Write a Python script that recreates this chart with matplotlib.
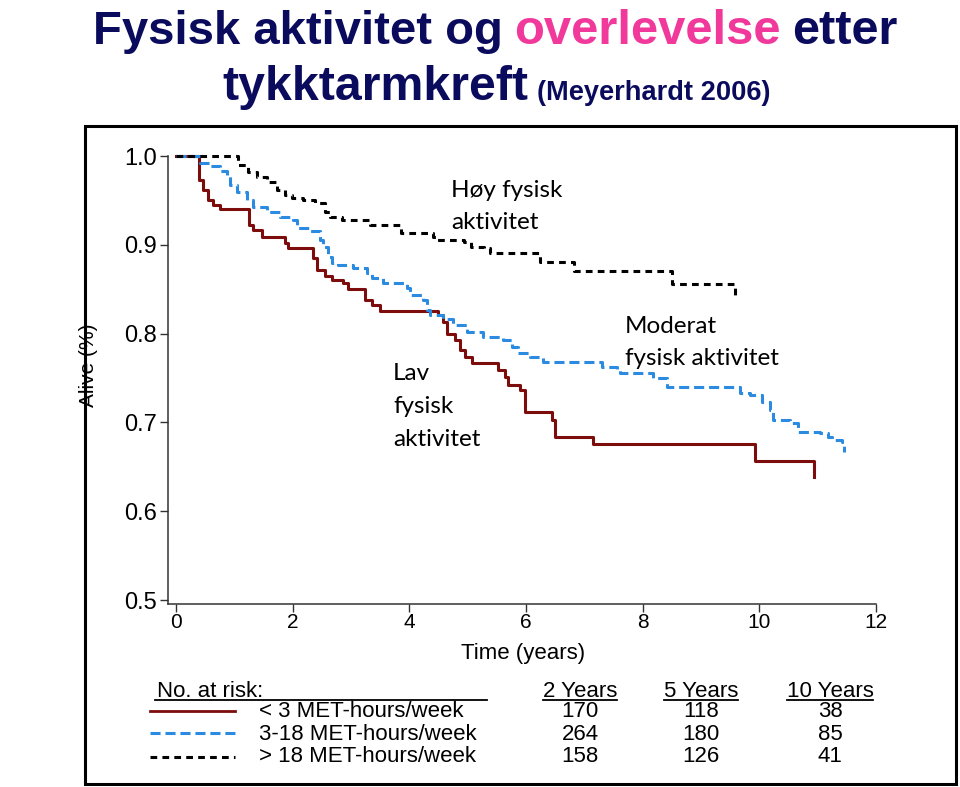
import matplotlib
matplotlib.use("Agg")
import matplotlib.pyplot as plt
from matplotlib import font_manager
from matplotlib.lines import Line2D
from matplotlib.patches import Rectangle

# Kaplan-Meier kurver lest av figuren (tid i år, andel i live)
lav_t = [0, 0.39, 0.46, 0.55, 0.63, 0.75, 1.25, 1.32, 1.48, 1.87, 1.92, 2.35, 2.42,
         2.56, 2.68, 2.86, 2.95, 3.24, 3.36, 3.50, 4.49, 4.58, 4.65, 4.79, 4.87, 4.96,
         5.08, 5.52, 5.64, 5.69, 5.90, 5.99, 6.45, 6.50, 7.15, 9.93, 10.94]
lav_s = [1.0, 0.973, 0.962, 0.950, 0.945, 0.940, 0.922, 0.917, 0.909, 0.902, 0.896,
         0.885, 0.872, 0.865, 0.860, 0.857, 0.850, 0.838, 0.832, 0.826, 0.821, 0.813,
         0.800, 0.793, 0.782, 0.774, 0.767, 0.759, 0.751, 0.742, 0.737, 0.712, 0.703,
         0.684, 0.676, 0.657, 0.639]

mod_t = [0, 0.41, 0.58, 0.75, 0.87, 0.93, 1.05, 1.22, 1.32, 1.56, 1.78, 2.01, 2.08,
         2.30, 2.47, 2.52, 2.61, 2.68, 2.78, 3.04, 3.28, 3.36, 3.55, 3.96, 4.01, 4.24,
         4.30, 4.36, 4.58, 4.75, 4.99, 5.27, 5.61, 5.76, 5.86, 6.07, 6.30, 7.31, 7.56,
         7.62, 8.18, 8.42, 9.67, 9.84, 10.05, 10.19, 10.24, 10.53, 10.67, 11.04, 11.17,
         11.25, 11.42, 11.45]
mod_s = [1.0, 0.992, 0.989, 0.983, 0.979, 0.967, 0.960, 0.950, 0.943, 0.937, 0.931,
         0.928, 0.919, 0.915, 0.905, 0.898, 0.886, 0.879, 0.877, 0.874, 0.868, 0.863,
         0.857, 0.851, 0.843, 0.838, 0.827, 0.821, 0.816, 0.810, 0.802, 0.796, 0.793,
         0.785, 0.778, 0.774, 0.768, 0.762, 0.759, 0.756, 0.750, 0.740, 0.733, 0.731,
         0.723, 0.714, 0.703, 0.699, 0.689, 0.688, 0.684, 0.680, 0.678, 0.667]

hoy_t = [0, 1.06, 1.23, 1.39, 1.56, 1.73, 1.87, 1.99, 2.18, 2.38, 2.55, 2.64, 2.85,
         3.33, 3.85, 4.41, 4.48, 4.94, 5.05, 5.28, 5.38, 6.24, 6.83, 8.51, 9.59]
hoy_s = [1.0, 0.990, 0.982, 0.976, 0.971, 0.962, 0.956, 0.953, 0.950, 0.947, 0.937,
         0.931, 0.928, 0.922, 0.913, 0.909, 0.905, 0.903, 0.898, 0.896, 0.891, 0.881,
         0.870, 0.856, 0.843]

grupper = ["< 3 MET-hours/week", "3-18 MET-hours/week", "> 18 MET-hours/week"]
aar_tekst = ["2 Years", "5 Years", "10 Years"]
at_risk = [[170, 118, 38],
           [264, 180, 85],
           [158, 126, 41]]

x_ticks = [0, 2, 4, 6, 8, 10, 12]
y_ticks = [0.5, 0.6, 0.7, 0.8, 0.9, 1.0]

NAVY = "#0b0b5e"
PINK = "#f0399a"
RED = "#7d0c0c"
BLUE = "#2b8be0"


def har_font(navn):
    try:
        font_manager.findfont(navn, fallback_to_default=False)
        return True
    except ValueError:
        return False


NARROW = "Liberation Sans Narrow" if har_font("Liberation Sans Narrow") else "Liberation Sans"
SANS = "Liberation Sans"
CALIBRI = "Lato"

W, H = 960, 787
fig = plt.figure(figsize=(9.6, 7.87), dpi=100)


def fx(x):
    return x / W


def fy(y):
    return 1 - y / H


renderer = fig.canvas.get_renderer()


def tittel_bit(s, farge, x0, x1, y):
    # tilpasser fontstørrelsen så teksten fyller x0..x1 (piksler)
    t = fig.text(fx(x0), fy(y), s, fontsize=40, color=farge, fontweight="bold",
                 family=[NARROW, "DejaVu Sans"], va="baseline", ha="left")
    w = t.get_window_extent(renderer).width
    t.set_fontsize(40 * (x1 - x0) / w)
    return t


tittel_bit("Fysisk aktivitet og", NAVY, 93, 502, 44)
tittel_bit("overlevelse", PINK, 514, 780, 44)
tittel_bit("etter", NAVY, 792, 897, 44)
tittel_bit("tykktarmkreft", NAVY, 222, 527, 100)
tittel_bit("(Meyerhardt 2006)", NAVY, 537, 770, 100)

# ramme rundt figuren
fig.add_artist(Rectangle((fx(85), fy(784)), (956 - 85) / W, (784 - 126) / H,
                         transform=fig.transFigure, fill=False, edgecolor="black",
                         linewidth=2.2))

# selve plottet
ax = fig.add_axes([fx(168), fy(604), (880 - 168) / W, (604 - 150) / H])
ax.set_xlim(-0.137, 12.069)
ax.set_ylim(0.4955, 1.00676)
ax.patch.set_alpha(0)

ax.step(lav_t, lav_s, where="post", color=RED, linewidth=2.2, clip_on=False)
ax.step(mod_t, mod_s, where="post", color=BLUE, linewidth=2.2, clip_on=False,
        dashes=(3.3, 1.6))
ax.step(hoy_t, hoy_s, where="post", color="black", linewidth=2.2, clip_on=False,
        dashes=(2.2, 1.7))

for side in ["top", "right"]:
    ax.spines[side].set_visible(False)
ax.spines["left"].set_bounds(0.4955, 1.0)
ax.spines["bottom"].set_bounds(-0.137, 12)
for side in ["left", "bottom"]:
    ax.spines[side].set_color("#333333")
    ax.spines[side].set_linewidth(1.1)

ax.set_xticks(x_ticks)
ax.set_xticklabels([str(v) for v in x_ticks], family=SANS, fontsize=15)
ax.set_yticks(y_ticks)
ax.set_yticklabels(["%.1f" % v for v in y_ticks], family=SANS, fontsize=17)
ax.tick_params(direction="out", length=6, width=1.0, color="#333333", pad=2)
ax.tick_params(axis="x", pad=0.5)

fig.text(fx(523), fy(654), "Time (years)", family=NARROW, fontsize=16,
         ha="center", va="center")
fig.text(fx(88), fy(365), "Alive (%)", family=NARROW, fontsize=15,
         ha="center", va="center", rotation=90)

# kurvetekster
kw = dict(family=CALIBRI, fontsize=17.5, color="black", va="baseline", ha="left")
fig.text(fx(451), fy(197), "Høy fysisk", **kw)
fig.text(fx(451), fy(229), "aktivitet", **kw)
fig.text(fx(625), fy(333), "Moderat", **kw)
fig.text(fx(625), fy(365), "fysisk aktivitet", **kw)
fig.text(fx(393), fy(380), "Lav", **kw)
fig.text(fx(393), fy(413), "fysisk", **kw)
fig.text(fx(393), fy(446), "aktivitet", **kw)

# tabell med antall at risk
tkw = dict(family=SANS, fontsize=16, color="black", va="baseline")
kol_x = [580, 701, 830]
fig.text(fx(157), fy(697), "No. at risk:", ha="left", **tkw)
fig.add_artist(Line2D([fx(155), fx(487)], [fy(700), fy(700)], color="black",
                      linewidth=1.3, transform=fig.transFigure))
for cx, s in zip(kol_x, aar_tekst):
    t = fig.text(fx(cx), fy(697), s, ha="center", **tkw)
    w = t.get_window_extent(renderer).width
    fig.add_artist(Line2D([fx(cx - w / 2), fx(cx + w / 2)], [fy(700), fy(700)],
                          color="black", linewidth=1.3, transform=fig.transFigure))

rad_y = [717, 740, 762]
linje_y = [711, 733, 757]
stiler = [dict(color=RED, linewidth=2.0),
          dict(color=BLUE, linewidth=2.2, dashes=(3.3, 1.6)),
          dict(color="black", linewidth=2.2, dashes=(2.2, 1.7))]
for y, ly, navn, tall, st in zip(rad_y, linje_y, grupper, at_risk, stiler):
    fig.add_artist(Line2D([fx(150), fx(235)], [fy(ly), fy(ly)],
                          transform=fig.transFigure, **st))
    fig.text(fx(259), fy(y), navn, ha="left", **tkw)
    for cx, n in zip(kol_x, tall):
        fig.text(fx(cx), fy(y), str(n), ha="center", **tkw)

fig.savefig("out.png", dpi=100)
